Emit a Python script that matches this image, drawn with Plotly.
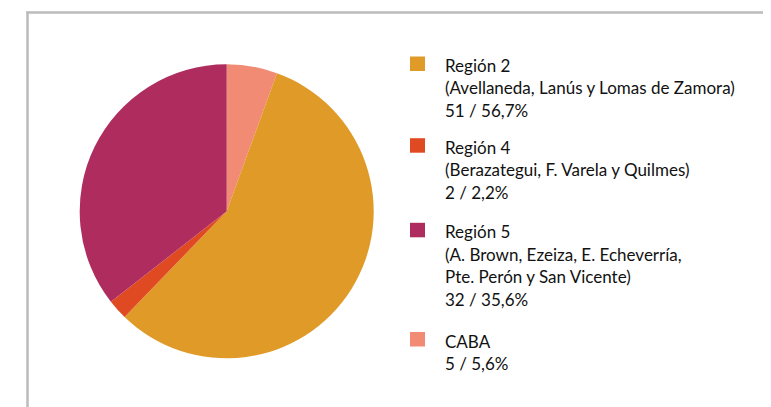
import plotly.graph_objects as go

# Data (drawing order: clockwise from 12 o'clock)
labels = ["CABA", "Región 2", "Región 4", "Región 5"]
values = [5, 51, 2, 32]
colors = ["#F18B73", "#E09A28", "#E04A22", "#AF2D5E"]

# Legend content (legend order)
legend_labels = ["Región 2", "Región 4", "Región 5", "CABA"]
legend_details = [
    ["(Avellaneda, Lanús y Lomas de Zamora)"],
    ["(Berazategui, F. Varela y Quilmes)"],
    ["(A. Brown, Ezeiza, E. Echeverría,", "Pte. Perón y San Vicente)"],
    [],
]
legend_counts = [51, 2, 32, 5]
legend_pcts = ["56,7%", "2,2%", "35,6%", "5,6%"]

W, H = 771, 407
OFF = 8  # page body margin

fig = go.Figure()

def px_x(x):
    return (x - OFF) / W

def px_y(y):
    return 1 - (y - OFF) / H

cx, cy, r = 226.7, 211.3, 147
fig.add_trace(go.Pie(
    labels=labels,
    values=values,
    marker=dict(colors=colors, line=dict(width=0)),
    sort=False,
    direction="clockwise",
    rotation=0,
    textinfo="none",
    hoverinfo="label+value+percent",
    showlegend=False,
    domain=dict(x=[px_x(cx - r), px_x(cx + r)],
                y=[px_y(cy + r), px_y(cy - r)]),
))

shapes = []
annotations = []

# Frame lines (top and left)
shapes.append(dict(type="line", xref="paper", yref="paper",
                   x0=px_x(26.5), x1=px_x(W + 20), y0=px_y(12.5), y1=px_y(12.5),
                   line=dict(color="#BBBBBB", width=2.5)))
shapes.append(dict(type="line", xref="paper", yref="paper",
                   x0=px_x(27.5), x1=px_x(27.5), y0=px_y(11.5), y1=px_y(H + 20),
                   line=dict(color="#BBBBBB", width=2.5)))

# Manual legend
cmap = dict(zip(labels, colors))
starts = [64.5, 146.2, 230.8, 340.0]
line_h = 22.5
font = dict(family="Lato, 'Open Sans', sans-serif", size=17, color="#111111")
for lab, det, cnt, pct, y0 in zip(legend_labels, legend_details, legend_counts, legend_pcts, starts):
    shapes.append(dict(type="rect", xref="paper", yref="paper",
                       x0=px_x(410), x1=px_x(425), y0=px_y(y0 + 6.5), y1=px_y(y0 - 8),
                       fillcolor=cmap[lab], line=dict(width=0)))
    lines = [lab] + det + [f"{cnt} / {pct}"]
    for i, t in enumerate(lines):
        annotations.append(dict(xref="paper", yref="paper", x=px_x(442.5), y=px_y(y0 + i * line_h + 1),
                                xanchor="left", yanchor="middle", text=t, showarrow=False,
                                font=font))

fig.update_layout(
    width=W, height=H,
    margin=dict(l=0, r=0, t=0, b=0),
    paper_bgcolor="white",
    plot_bgcolor="white",
    shapes=shapes,
    annotations=annotations,
)

fig.write_html("out.html")
